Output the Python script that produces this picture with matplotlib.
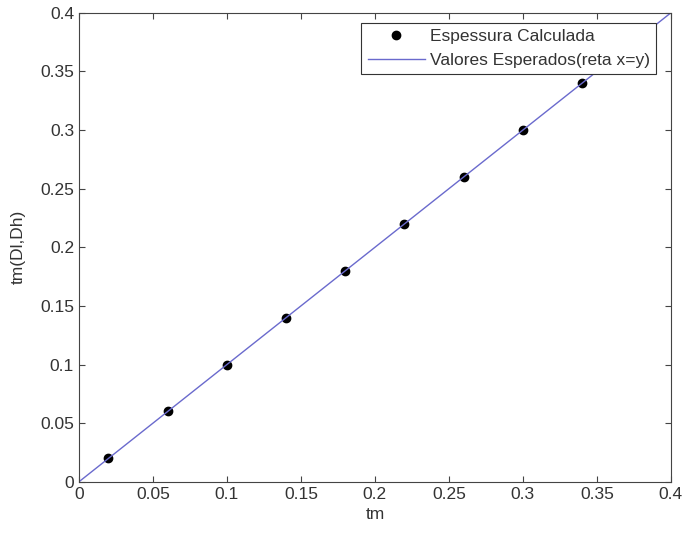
import numpy as np
import matplotlib.pyplot as plt

plt.rcParams['font.family'] = ['Liberation Sans', 'DejaVu Sans']

# dados
tm = [0.02, 0.06, 0.10, 0.14, 0.18, 0.22, 0.26, 0.30, 0.34]
tm_calc = [0.02, 0.06, 0.10, 0.14, 0.18, 0.22, 0.26, 0.30, 0.34]
reta = [0.0, 0.4]

xticks = [0, 0.05, 0.1, 0.15, 0.2, 0.25, 0.3, 0.35, 0.4]
tick_labels = ['0', '0.05', '0.1', '0.15', '0.2', '0.25', '0.3', '0.35', '0.4']

fig = plt.figure(figsize=(6.86, 5.33), dpi=100)
ax = fig.add_axes([0.115, 0.096, 0.863, 0.88])

ax.plot(tm, tm_calc, 'o', color='black', markersize=6, label='Espessura Calculada')
ax.plot(reta, reta, '-', color='#6a6acd', linewidth=1, label='Valores Esperados(reta x=y)')

ax.set_xlim(0, 0.4)
ax.set_ylim(0, 0.4)
ax.set_xticks(xticks)
ax.set_xticklabels(tick_labels)
ax.set_yticks(xticks)
ax.set_yticklabels(tick_labels)
ax.tick_params(direction='in', top=True, right=True, labelsize=12.5, length=4,
               colors='#444444', labelcolor='#333333')
for s in ax.spines.values():
    s.set_color('#444444')

ax.set_xlabel('tm', fontsize=12.5, labelpad=4, color='#333333')
ax.set_ylabel('tm(Dl,Dh)', fontsize=12.5, labelpad=10, color='#333333')

leg = ax.legend(loc='upper right', bbox_to_anchor=(0.975, 0.979), borderaxespad=0,
                fontsize=12.5, fancybox=False, framealpha=1, edgecolor='#333333',
                handlelength=3.3, borderpad=0.35, labelspacing=0.5, handletextpad=0.3)
leg.get_frame().set_linewidth(0.8)
for t in leg.get_texts():
    t.set_color('#333333')

fig.savefig('out.png', dpi=100)
